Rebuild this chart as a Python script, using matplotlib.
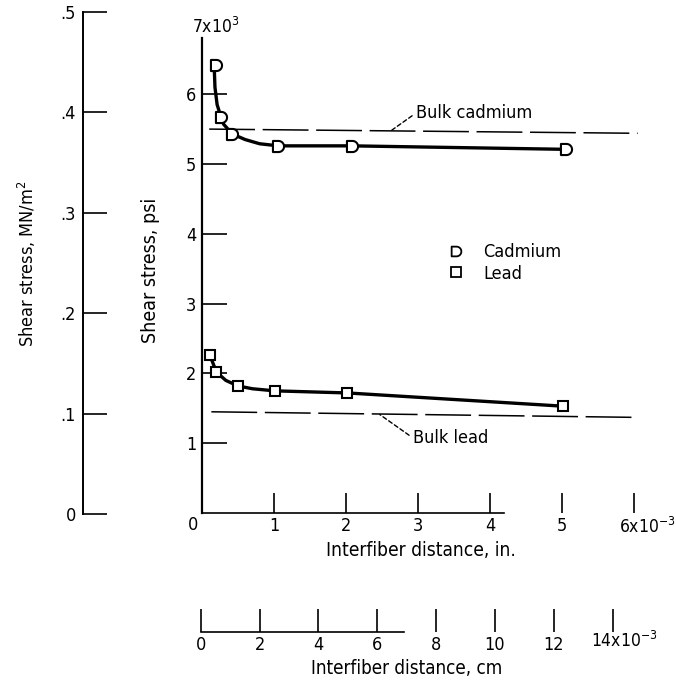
import numpy as np
import matplotlib.pyplot as plt
from matplotlib.path import Path
from matplotlib.lines import Line2D

plt.rcParams['font.family'] = 'DejaVu Sans'
plt.rcParams['font.stretch'] = 'condensed'

W, H = 676, 681

# measured points (interfiber distance in 1e-3 in., shear stress in 1e3 psi)
cd_dist = [0.20, 0.265, 0.42, 1.06, 2.08, 5.06]
cd_stress = [6.42, 5.67, 5.43, 5.26, 5.26, 5.21]
pb_dist = [0.11, 0.20, 0.50, 1.01, 2.02, 5.02]
pb_stress = [2.26, 2.02, 1.82, 1.75, 1.72, 1.53]

# faired curves
cd_curve_x = [0.17, 0.18, 0.21, 0.265, 0.30, 0.42, 0.60, 0.80, 1.06, 2.08, 5.06]
cd_curve_y = [6.38, 6.10, 5.85, 5.67, 5.57, 5.43, 5.35, 5.29, 5.26, 5.26, 5.21]
pb_curve_x = [0.11, 0.20, 0.33, 0.50, 0.70, 1.01, 2.02, 5.02]
pb_curve_y = [2.26, 2.02, 1.90, 1.82, 1.78, 1.75, 1.72, 1.53]

# bulk reference lines
bulk_cd_x = [0.10, 6.05]
bulk_cd_y = [5.50, 5.44]
bulk_pb_x = [0.13, 6.02]
bulk_pb_y = [1.45, 1.37]

psi_ticks = [1, 2, 3, 4, 5, 6]
in_ticks = [1, 2, 3, 4, 5, 6]
in_labels = ["1", "2", "3", "4", "5", ""]
mn_ticks = [0, 0.1, 0.2, 0.3, 0.4, 0.5]
mn_labels = ["0", ".1", ".2", ".3", ".4", ".5"]
cm_ticks = [0, 2, 4, 6, 8, 10, 12, 14]
cm_labels = ["0", "2", "4", "6", "8", "10", "12", ""]


def fx(x):
    return x / W


def fy(y):
    return 1 - y / H


# D shaped marker for cadmium
t = np.linspace(np.pi / 2, -np.pi / 2, 20)
d_verts = [(-0.5, -0.5), (-0.5, 0.5), (0, 0.5)] + [(0.5 * np.cos(a), 0.5 * np.sin(a)) for a in t] + [(-0.5, -0.5)]
d_codes = [Path.MOVETO] + [Path.LINETO] * (len(d_verts) - 2) + [Path.CLOSEPOLY]
d_marker = Path(d_verts, d_codes)

fig = plt.figure(figsize=(W / 100, H / 100), dpi=100)

# main axes, psi vs inches
ax = fig.add_axes([fx(202), fy(513), 6.3 * 72 / W, 7 * 69.8 / H])
ax.set_xlim(0, 6.3)
ax.set_ylim(0, 7)

ax.plot(bulk_cd_x, bulk_cd_y, color="black", lw=1.1, dashes=(30, 5))
ax.plot(bulk_pb_x, bulk_pb_y, color="black", lw=1.1, dashes=(30, 5))
ax.plot(cd_curve_x, cd_curve_y, color="black", lw=2.4, solid_capstyle="round", solid_joinstyle="round")
ax.plot(pb_curve_x, pb_curve_y, color="black", lw=2.4, solid_capstyle="round", solid_joinstyle="round")
ax.plot(cd_dist, cd_stress, ls="none", marker=d_marker, ms=8, mfc="white", mec="black", mew=1.5)
ax.plot(pb_dist, pb_stress, ls="none", marker="s", ms=7.5, mfc="white", mec="black", mew=1.5)

for s in ["top", "right"]:
    ax.spines[s].set_visible(False)
ax.spines["left"].set_bounds(0, 6.8)
ax.spines["bottom"].set_bounds(0, 4.2)
ax.spines["left"].set_linewidth(1.6)
ax.spines["bottom"].set_linewidth(1.2)

ax.set_yticks(psi_ticks)
ax.set_xticks(in_ticks)
ax.set_xticklabels(in_labels)
ax.tick_params(axis="y", direction="in", length=18, width=1.2, pad=4, labelsize=13)
ax.tick_params(axis="x", direction="in", length=14.5, width=1.2, pad=3, labelsize=13)

ax.set_ylabel("Shear stress, psi", fontsize=14, va="center")
ax.yaxis.set_label_coords(fx(151), fy(270), transform=fig.transFigure)
ax.set_xlabel("Interfiber distance, in.", fontsize=13.8, va="center")
ax.xaxis.set_label_coords(fx(421), fy(550), transform=fig.transFigure)

fig.text(fx(193), fy(525), "0", fontsize=13, ha="center", va="center")
fig.text(fx(216), fy(27), "7x10$^3$", fontsize=12.5, ha="center", va="center")
fig.text(fx(619), fy(527), "6x10$^{-3}$", fontsize=12.5, ha="left", va="center")

ax.annotate("Bulk cadmium", xy=(2.63, 5.48), xytext=(fx(416), fy(113)), textcoords="figure fraction",
            fontsize=13, ha="left", va="center",
            arrowprops=dict(arrowstyle="-", ls=(0, (3, 2)), lw=1, shrinkA=1, shrinkB=0, relpos=(0, 0.5)))
ax.annotate("Bulk lead", xy=(2.47, 1.41), xytext=(fx(413), fy(438)), textcoords="figure fraction",
            fontsize=13, ha="left", va="center",
            arrowprops=dict(arrowstyle="-", ls=(0, (3, 2)), lw=1, shrinkA=1, shrinkB=0, relpos=(0, 0.5)))

handles = [Line2D([], [], ls="none", marker=d_marker, ms=7, mfc="white", mec="black", mew=1.3),
           Line2D([], [], ls="none", marker="s", ms=6.5, mfc="white", mec="black", mew=1.3)]
ax.legend(handles, ["Cadmium", "Lead"], frameon=False, fontsize=13, loc="upper left",
          bbox_to_anchor=(fx(447), fy(243)), bbox_transform=fig.transFigure,
          borderpad=0, borderaxespad=0, handlelength=1.0, handletextpad=1.0, labelspacing=0.2)

# left axis, MN/m^2
ax2 = fig.add_axes([fx(83), fy(514), 0.05, (514 - 11.7) / H])
ax2.set_ylim(0, 0.5)
ax2.set_xlim(0, 1)
for s in ["top", "right", "bottom"]:
    ax2.spines[s].set_visible(False)
ax2.spines["left"].set_linewidth(1.4)
ax2.set_xticks([])
ax2.set_yticks(mn_ticks)
ax2.set_yticklabels(mn_labels)
ax2.tick_params(axis="y", direction="in", length=17, width=1.2, pad=5, labelsize=13)
ax2.patch.set_alpha(0)
ax2.set_ylabel("Shear stress, MN/m$^2$", fontsize=13, va="center")
ax2.yaxis.set_label_coords(fx(27), fy(264), transform=fig.transFigure)

# bottom axis, cm
ax3 = fig.add_axes([fx(200.7), fy(631.7), 14.5 * 29.43 / W, 0.03])
ax3.set_xlim(0, 14.5)
ax3.set_ylim(0, 1)
for s in ["top", "right", "left"]:
    ax3.spines[s].set_visible(False)
ax3.spines["bottom"].set_bounds(0, 6.9)
ax3.spines["bottom"].set_linewidth(1.2)
ax3.set_yticks([])
ax3.set_xticks(cm_ticks)
ax3.set_xticklabels(cm_labels)
ax3.set_xticks([0], minor=True)
ax3.tick_params(axis="x", which="major", direction="in", length=16.5, width=1.2, pad=3, labelsize=13)
ax3.tick_params(axis="x", which="minor", direction="in", length=21, width=1.4)
ax3.patch.set_alpha(0)
ax3.set_xlabel("Interfiber distance, cm", fontsize=13.5, va="center")
ax3.xaxis.set_label_coords(fx(407), fy(668), transform=fig.transFigure)
fig.text(fx(591), fy(641), "14x10$^{-3}$", fontsize=12.5, ha="left", va="center")

fig.savefig("out.png", dpi=100)
